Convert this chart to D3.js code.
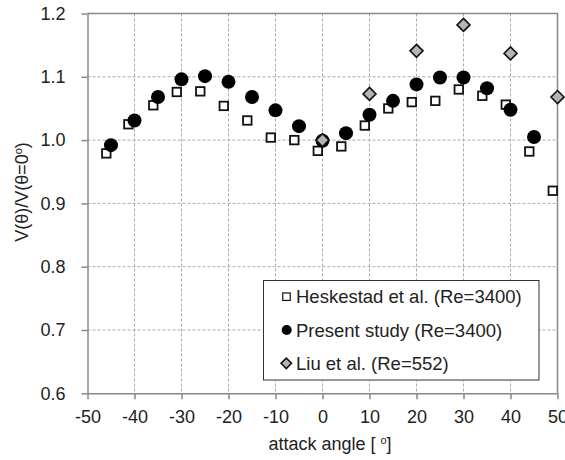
<!DOCTYPE html>
<html>
<head>
<meta charset="utf-8">
<script src="https://cdn.jsdelivr.net/npm/d3@7"></script>
<style>
  body { margin: 0; background: #fff; }
  svg { display: block; }
  text { font-family: "Liberation Sans", Arial, sans-serif; fill: #222; }
</style>
</head>
<body>
<svg id="chart" width="565" height="460"></svg>
<script>
// data
var heskAngle = [-46, -41.3, -36, -31, -26, -21, -16, -11, -6, -1, 4, 9, 14, 19, 24, 29, 34, 39, 44, 49];
var heskV     = [0.979, 1.025, 1.055, 1.076, 1.077, 1.054, 1.031, 1.004, 1.0, 0.983, 0.99, 1.023, 1.05, 1.06, 1.062, 1.08, 1.07, 1.056, 0.982, 0.92];
var presAngle = [-45, -40, -35, -30, -25, -20, -15, -10, -5, 0, 5, 10, 15, 20, 25, 30, 35, 40, 45];
var presV     = [0.992, 1.031, 1.068, 1.096, 1.101, 1.092, 1.068, 1.047, 1.022, 0.999, 1.011, 1.04, 1.062, 1.088, 1.099, 1.099, 1.082, 1.048, 1.005];
var liuAngle  = [0, 10, 20, 30, 40, 50];
var liuV      = [1.0, 1.073, 1.141, 1.182, 1.137, 1.068];
var xTicks = [-50, -40, -30, -20, -10, 0, 10, 20, 30, 40, 50];
var yTicks = [0.6, 0.7, 0.8, 0.9, 1.0, 1.1, 1.2];
var legendLabels = ["Heskestad et al. (Re=3400)", "Present study (Re=3400)", "Liu et al. (Re=552)"];

var svg = d3.select("#chart");
var pLeft = 87.5, pRight = 557.5, pTop = 13.5, pBottom = 393.3;

var x = d3.scaleLinear().domain([-50, 50]).range([pLeft, pRight]);
var y = d3.scaleLinear().domain([0.6, 1.2]).range([pBottom, pTop]);

// grid
svg.append("g").selectAll("line").data(xTicks.slice(1, -1)).enter().append("line")
  .attr("x1", d => x(d)).attr("x2", d => x(d))
  .attr("y1", pTop).attr("y2", pBottom)
  .style("stroke", "#aaa").style("stroke-width", 1).style("stroke-dasharray", "3,2");
svg.append("g").selectAll("line").data(yTicks.slice(1, -1)).enter().append("line")
  .attr("x1", pLeft).attr("x2", pRight)
  .attr("y1", d => y(d)).attr("y2", d => y(d))
  .style("stroke", "#aaa").style("stroke-width", 1).style("stroke-dasharray", "3,2");

// frame top/right
svg.append("path")
  .attr("d", "M" + pLeft + "," + pTop + "H" + pRight + "V" + pBottom)
  .style("fill", "none").style("stroke", "#888").style("stroke-width", 1.5);

// axes
var xAxis = svg.append("g").attr("transform", "translate(0," + pBottom + ")")
  .call(d3.axisBottom(x).tickValues(xTicks).tickSize(6).tickSizeOuter(0).tickPadding(11).tickFormat(d3.format("d")));
var yAxis = svg.append("g").attr("transform", "translate(" + pLeft + ",0)")
  .call(d3.axisLeft(y).tickValues(yTicks).tickSize(6).tickSizeOuter(0).tickPadding(16).tickFormat(d3.format(".1f")));
[xAxis, yAxis].forEach(function(ax) {
  ax.select(".domain").style("stroke", "#888").style("stroke-width", 1.5);
  ax.selectAll(".tick line").style("stroke", "#888").style("stroke-width", 1.5);
  ax.selectAll("text").style("font-size", "18px").style("font-family", "Liberation Sans, Arial, sans-serif").attr("fill", "#222");
});
xAxis.selectAll("text").text(d => d < 0 ? "-" + Math.abs(d) : d);

// axis titles
var xt = svg.append("text").attr("x", 330).attr("y", 450).attr("text-anchor", "middle")
  .style("font-size", "18px");
xt.append("tspan").text("attack angle [ ");
xt.append("tspan").attr("dy", -6).style("font-size", "11px").text("o");
xt.append("tspan").attr("dy", 6).text("]");

var yt = svg.append("text").attr("transform", "translate(28,192) rotate(-90)")
  .attr("text-anchor", "middle").style("font-size", "18px");
yt.append("tspan").text("V(θ)/V(θ=0");
yt.append("tspan").attr("dy", -6).style("font-size", "11px").text("o");
yt.append("tspan").attr("dy", 6).text(")");

// markers
function square(g, cx, cy, s, sw) {
  g.append("rect").attr("x", cx - s / 2).attr("y", cy - s / 2).attr("width", s).attr("height", s)
    .style("fill", "#fff").style("stroke", "#111").style("stroke-width", sw);
}
function dot(g, cx, cy, r) {
  g.append("circle").attr("cx", cx).attr("cy", cy).attr("r", r).style("fill", "#000");
}
function diamond(g, cx, cy, r) {
  g.append("path")
    .attr("d", "M" + cx + "," + (cy - r) + "L" + (cx + r) + "," + cy + "L" + cx + "," + (cy + r) + "L" + (cx - r) + "," + cy + "Z")
    .style("fill", "#b4b4b4").style("stroke", "#111").style("stroke-width", 1.6);
}

var pts = svg.append("g");
heskAngle.forEach(function(a, i) { square(pts, x(a), y(heskV[i]), 8.5, 1.8); });
presAngle.forEach(function(a, i) { dot(pts, x(a), y(presV[i]), 7); });
liuAngle.forEach(function(a, i) { diamond(pts, x(a), y(liuV[i]), 6.5); });

// legend
var lg = svg.append("g");
lg.append("rect").attr("x", 263.5).attr("y", 280.5).attr("width", 275.5).attr("height", 99.5)
  .style("fill", "#fff").style("stroke", "#333").style("stroke-width", 1);
var rowY = [296.7, 330, 363.3];
square(lg, 286.5, rowY[0], 7.5, 1.2);
dot(lg, 286.7, rowY[1], 5);
diamond(lg, 286.3, rowY[2], 5.2);
legendLabels.forEach(function(t, i) {
  lg.append("text").attr("x", 296).attr("y", rowY[i] + 6.5).style("font-size", "18.5px").text(t);
});
</script>
</body>
</html>
